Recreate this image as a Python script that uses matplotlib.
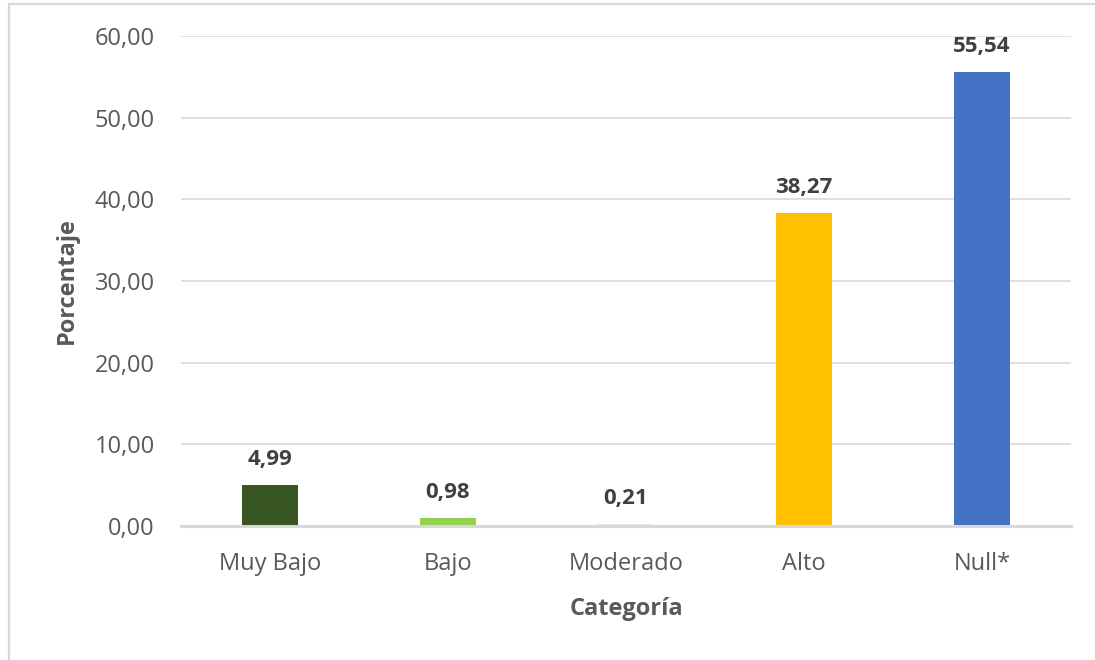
import matplotlib
matplotlib.use("Agg")
import matplotlib.pyplot as plt
from matplotlib.lines import Line2D

categorias = ["Muy Bajo", "Bajo", "Moderado", "Alto", "Null*"]
porcentajes = [4.99, 0.98, 0.21, 38.27, 55.54]
colores = ["#375623", "#92D050", "#E2EFDA", "#FFC000", "#4472C4"]
yticks = [0, 10, 20, 30, 40, 50, 60]

plt.rcParams["font.family"] = ["Open Sans", "DejaVu Sans"]

fig = plt.figure(figsize=(10.95, 6.6), dpi=100)
ax = fig.add_axes([181 / 1095, 134 / 660, 890 / 1095, 490 / 660])

x = list(range(len(categorias)))
ax.bar(x, porcentajes, width=0.312, color=colores, zorder=2)

for xi, v in zip(x, porcentajes):
    ax.annotate(f"{v:.2f}".replace(".", ","), (xi, v), xytext=(0, 15),
                textcoords="offset pixels", ha="center", va="bottom",
                fontsize=16, fontweight="bold", color="#404040")

ax.set_xlim(-0.5, len(categorias) - 0.5)
ax.set_ylim(0, 60)
ax.set_yticks(yticks)
ax.set_yticklabels([f"{t:.2f}".replace(".", ",") for t in yticks])
ax.set_xticks(x)
ax.set_xticklabels(categorias)
ax.tick_params(axis="both", length=0, labelsize=17, colors="#595959")
ax.tick_params(axis="y", pad=19)
ax.tick_params(axis="x", pad=19)

ax.grid(axis="y", color="#D9D9D9", linewidth=1.2, zorder=1)
ax.set_axisbelow(True)
for s in ["top", "right", "left"]:
    ax.spines[s].set_visible(False)
ax.spines["bottom"].set_color("#D9D9D9")
ax.spines["bottom"].set_linewidth(2.2)
ax.spines["bottom"].set_zorder(3)

ax.set_ylabel("Porcentaje", fontsize=17, fontweight="bold", color="#595959", labelpad=11)
ax.set_xlabel("Categoría", fontsize=17, fontweight="bold", color="#595959", labelpad=15)

# chart-area frame
fig.add_artist(Line2D([8.5 / 1095, 8.5 / 1095], [0, 656 / 660],
                      transform=fig.transFigure, color="#D9D9D9", linewidth=1.6))
fig.add_artist(Line2D([8.5 / 1095, 1], [656 / 660, 656 / 660],
                      transform=fig.transFigure, color="#D9D9D9", linewidth=1.6))

fig.savefig("out.png", dpi=100, facecolor="white")
